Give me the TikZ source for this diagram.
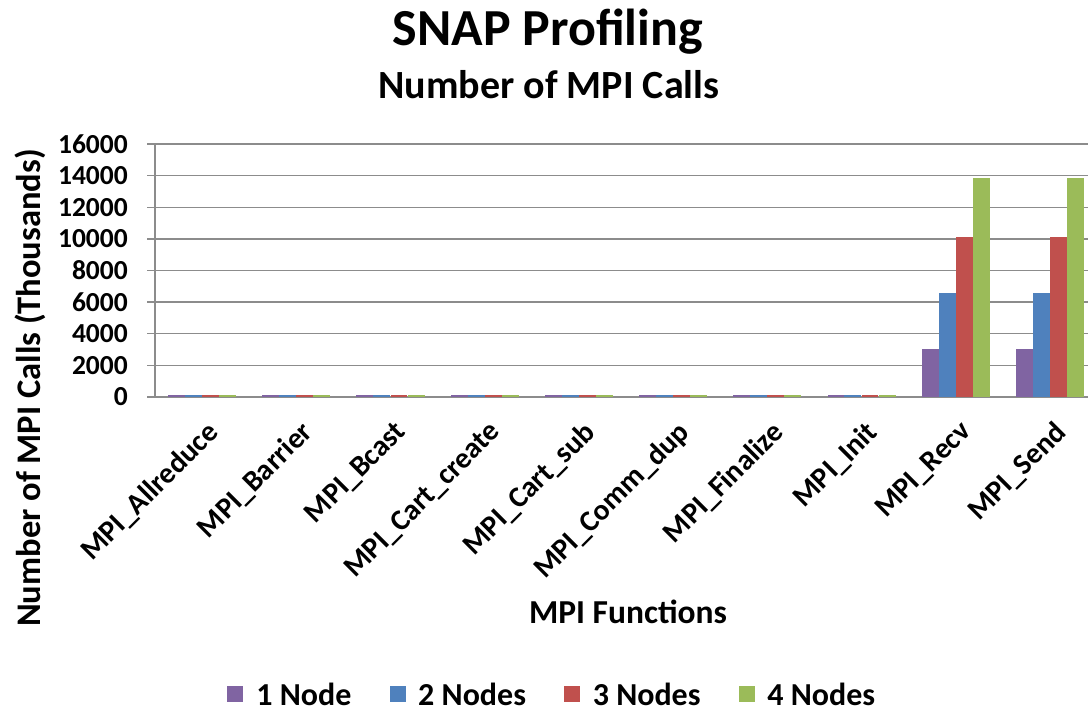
\documentclass[tikz,border=0pt]{standalone}
\usepackage{fontspec}
\setmainfont{Carlito}
\usepackage{xcolor}
\usetikzlibrary{positioning}

\definecolor{oneNode}{HTML}{8064A2}
\definecolor{twoNodes}{HTML}{4F81BD}
\definecolor{threeNodes}{HTML}{C0504D}
\definecolor{fourNodes}{HTML}{9BBB59}
\definecolor{gridgray}{HTML}{8C8C8C}

\tikzset{
  gridline/.style={draw=gridgray, line width=1.4pt},
  ticklabel/.style={font=\bfseries\fontsize{27.5}{32}\selectfont, anchor=east, inner sep=0pt},
  catlabel/.style={font=\bfseries\fontsize{29.5}{34}\selectfont, rotate=45, anchor=north east, inner sep=0pt},
  legsq/.style={minimum size=16pt, inner sep=0pt},
  leglabel/.style={font=\bfseries\fontsize{32}{36}\selectfont, inner sep=0pt}
}

\begin{document}
\begin{tikzpicture}[x=1pt, y=1pt]
  \useasboundingbox (0,0) rectangle (1088,709);
  % Titles
  \node[font=\bfseries\fontsize{52}{58}\selectfont] (title) at (548,677) {SNAP Profiling};
  \node[font=\bfseries\fontsize{40}{46}\selectfont] (subtitle) at (549,624) {Number of MPI Calls};
  % Plot area: origin at the axis corner, one unit per category and per 1000
  \begin{scope}[shift={(155,312)}, x=94.2pt, y=15.81pt]
    % Grid and tick labels
    \foreach \v/\lab in {0/0, 2/2000, 4/4000, 6/6000, 8/8000, 10/10000, 12/12000, 14/14000, 16/16000} {
      \draw[gridline] (-8pt,\v) -- (9.9,\v);
      \node[ticklabel] (tick\v) at (-27pt,\v) {\lab};
    }
    \draw[gridline] (0,0) -- (0,16);
    % Bars
    \foreach \i/\a/\b/\c/\d in {1/0.12/0.12/0.12/0.12, 2/0.12/0.12/0.12/0.12, 3/0.12/0.12/0.12/0.12,
        4/0.12/0.12/0.12/0.12, 5/0.12/0.12/0.12/0.12, 6/0.12/0.12/0.12/0.12, 7/0.12/0.12/0.12/0.12,
        8/0.12/0.12/0.12/0.12, 9/3.02/6.56/10.14/13.87, 10/3.02/6.56/10.14/13.87} {
      \fill[oneNode]    (\i-0.861,0) rectangle ++(0.18,\a);
      \fill[twoNodes]   (\i-0.681,0) rectangle ++(0.18,\b);
      \fill[threeNodes] (\i-0.5,0)   rectangle ++(0.18,\c);
      \fill[fourNodes]  (\i-0.319,0) rectangle ++(0.18,\d);
      \coordinate (c\i) at (\i-0.5,0);
    }
  \end{scope}
  % Category labels
  \foreach \i/\name in {1/MPI\_Allreduce, 2/MPI\_Barrier, 3/MPI\_Bcast, 4/MPI\_Cart\_create,
      5/MPI\_Cart\_sub, 6/MPI\_Comm\_dup, 7/MPI\_Finalize, 8/MPI\_Init, 9/MPI\_Recv, 10/MPI\_Send} {
    \node[catlabel] (cat\i) at ([xshift=3pt, yshift=-22pt]c\i) {\name};
  }
  % Axis titles
  \node[font=\bfseries\fontsize{34.5}{40}\selectfont, rotate=90] (ylabel) at (30,321) {Number of MPI Calls (Thousands)};
  \node[font=\bfseries\fontsize{33.5}{38}\selectfont] (xlabel) at (628,97) {MPI Functions};
  % Legend
  \node[legsq, fill=oneNode] (sq1) at (235,15) {};
  \node[leglabel, right=13pt of sq1] (leg1) {1 Node};
  \node[legsq, fill=twoNodes, right=38pt of leg1] (sq2) {};
  \node[leglabel, right=12pt of sq2] (leg2) {2 Nodes};
  \node[legsq, fill=threeNodes, right=38pt of leg2] (sq3) {};
  \node[leglabel, right=12pt of sq3] (leg3) {3 Nodes};
  \node[legsq, fill=fourNodes, right=38pt of leg3] (sq4) {};
  \node[leglabel, right=12pt of sq4] (leg4) {4 Nodes};
\end{tikzpicture}
\end{document}
